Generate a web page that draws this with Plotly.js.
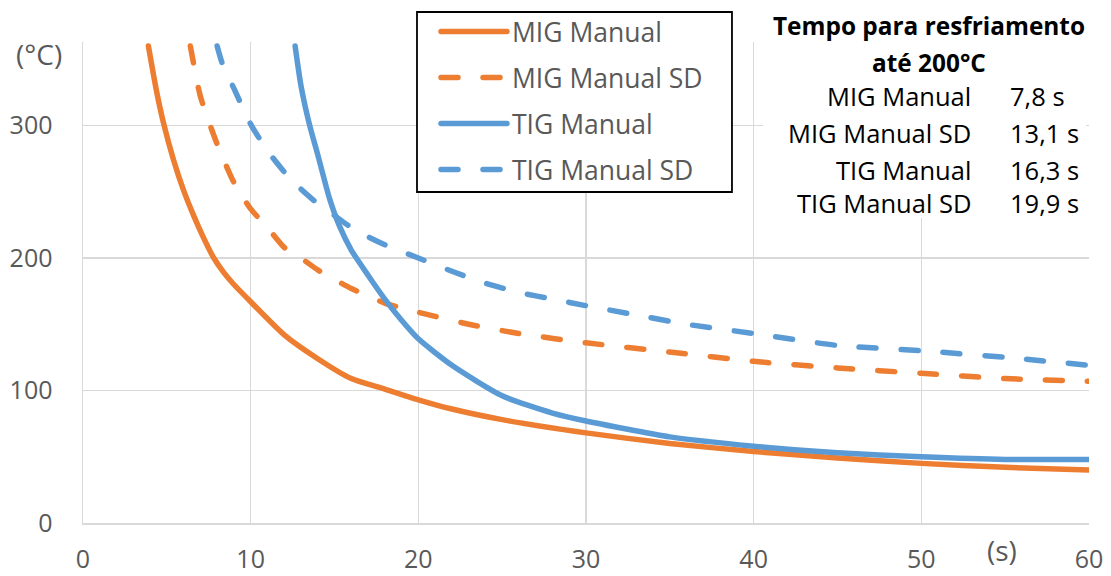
<!DOCTYPE html>
<html><head><meta charset="utf-8">
<script src="https://cdn.plot.ly/plotly-3.0.1.min.js"></script>
<style>html,body{margin:0;padding:0;background:#fff}
#chart path.js-line{stroke-linecap:round}</style>
</head><body><div id="chart" style="width:1111px;height:576px"></div>
<script>
// ---- data ----
const seriesNames = ["MIG Manual", "MIG Manual SD", "TIG Manual", "TIG Manual SD"];

const migX = [3.9, 4.4, 4.8, 5.4, 6, 6.6, 7.2, 7.8, 8.4, 9, 10, 12, 14, 16, 18, 20, 22, 25, 30, 35, 40, 45, 50, 55, 60];
const migY = [360, 325, 302, 274, 251, 232, 215, 200, 189, 180, 167, 142, 124, 109, 101, 93, 86, 78, 68, 60, 54, 49, 45, 42, 40];

const migSdX = [6.4, 7, 8, 9, 10, 11, 12, 13, 14, 16, 18, 20, 23, 26, 30, 35, 40, 45, 50, 55, 60];
const migSdY = [360, 322, 286, 257, 237, 223, 208, 200, 191, 177, 166, 159, 150, 143, 136, 129, 122, 117, 113, 109, 107];

const tigX = [12.65, 13, 13.5, 14, 14.7, 15.3, 16, 17, 18, 19, 20, 22, 25, 28, 30, 35, 40, 45, 50, 55, 60];
const tigY = [360, 330, 301, 278, 245, 224, 206, 187, 169, 153, 139, 119, 96, 83, 77, 65, 58, 53, 50, 48, 48];

const tigSdX = [8, 8.3, 9, 10, 11, 12, 13, 14, 15, 16, 17, 18, 20, 22, 24, 26, 28, 30, 33, 36, 40, 45, 50, 55, 60];
const tigSdY = [360, 347, 328, 301, 281, 265, 252, 241, 232, 223, 216, 210, 200, 190, 181, 174, 169, 164, 157, 150, 143, 134, 130, 125, 119];

const coolTitle = ["Tempo para resfriamento", "até 200°C"];
const coolLabels = ["MIG Manual", "MIG Manual SD", "TIG Manual", "TIG Manual SD"];
const coolValues = ["7,8 s", "13,1 s", "16,3 s", "19,9 s"];

const xTicks = [0, 10, 20, 30, 40, 50, 60];
const yTicks = [0, 100, 200, 300];

// ---- styling ----
const ORANGE = "#ED7D31", BLUE = "#5B9BD5", GREY = "#595959", GRID = "#d9d9d9";
const FONT = "Open Sans, sans-serif";
const DASH = "17px,25px";

function tr(x, y, name, color, dash, g) {
  return {x: x, y: y, name: name, type: "scatter", mode: "lines",
          legendgroup: g, line: {color: color, width: 5.5, dash: dash, shape: "spline", smoothing: 0.6}};
}
const data = [
  tr(migX, migY, seriesNames[0], ORANGE, "solid", "a"),
  tr(migSdX, migSdY, seriesNames[1], ORANGE, DASH, "b"),
  tr(tigX, tigY, seriesNames[2], BLUE, "solid", "c"),
  tr(tigSdX, tigSdY, seriesNames[3], BLUE, DASH, "d")
];

const rowY = [0.8876, 0.8107, 0.7337, 0.6651];
const annotations = [
  {text: "<b>" + coolTitle[0] + "</b>", xref: "paper", yref: "paper", x: 0.841, y: 1.0353, showarrow: false,
   xanchor: "center", yanchor: "middle", font: {family: FONT, size: 24.4, color: "#000"}},
  {text: "<b>" + coolTitle[1] + "</b>", xref: "paper", yref: "paper", x: 0.841, y: 0.9584, showarrow: false,
   xanchor: "center", yanchor: "middle", font: {family: FONT, size: 24.4, color: "#000"}},
  {text: "(°C)", xref: "paper", yref: "paper", x: -0.0437, y: 0.976, showarrow: false,
   xanchor: "center", yanchor: "middle", font: {family: FONT, size: 28, color: GREY}},
  {text: "(s)", xref: "paper", yref: "paper", x: 0.9135, y: -0.056, showarrow: false,
   xanchor: "center", yanchor: "middle", font: {family: FONT, size: 28, color: GREY}}
];
coolLabels.forEach((lab, i) => {
  annotations.push({text: lab, xref: "paper", yref: "paper", x: 0.8847, y: rowY[i], showarrow: false,
    xanchor: "right", yanchor: "middle", font: {family: FONT, size: 25.5, color: "#000"}});
  annotations.push({text: coolValues[i], xref: "paper", yref: "paper", x: 0.9195, y: rowY[i], showarrow: false,
    xanchor: "left", yanchor: "middle", font: {family: FONT, size: 25.5, color: "#000"}});
});

const layout = {
  width: 1111, height: 576,
  margin: {l: 83, r: 22, t: 42, b: 53, autoexpand: false},
  paper_bgcolor: "#fff", plot_bgcolor: "#fff",
  font: {family: FONT, color: GREY},
  showlegend: true,
  legend: {x: 0.3509, y: 1.071, xanchor: "left", yanchor: "top", bgcolor: "rgba(0,0,0,0)",
           borderwidth: 0, font: {family: FONT, size: 26.5, color: GREY},
           itemwidth: 66, traceorder: "grouped", tracegroupgap: 8.5},
  xaxis: {range: [0, 60], tickvals: xTicks, showgrid: true, gridcolor: GRID, gridwidth: 1.5,
          showline: true, linecolor: GRID, linewidth: 1.5, zeroline: false, automargin: false,
          ticks: "", ticklabelstandoff: 13, tickfont: {family: FONT, size: 25, color: GREY}},
  yaxis: {range: [0, 363], tickvals: yTicks, showgrid: true, gridcolor: GRID, gridwidth: 1.5,
          showline: true, linecolor: GRID, linewidth: 1.5, zeroline: false, automargin: false,
          ticks: "", ticklabelstandoff: 24, tickfont: {family: FONT, size: 25, color: GREY}},
  shapes: [
    {type: "rect", xref: "paper", yref: "paper", x0: 0.676, x1: 0.997, y0: 0.634, y1: 1.1,
     fillcolor: "#fff", line: {width: 0}, layer: "above"},
    {type: "rect", xref: "paper", yref: "paper", x0: 0.3320, x1: 0.6451, y0: 0.6881, y1: 1.0624,
     fillcolor: "#fff", line: {color: "#000", width: 1.8}, layer: "above"}
  ],
  annotations: annotations
};

Plotly.newPlot("chart", data, layout, {displayModeBar: false, staticPlot: true});
</script></body></html>
